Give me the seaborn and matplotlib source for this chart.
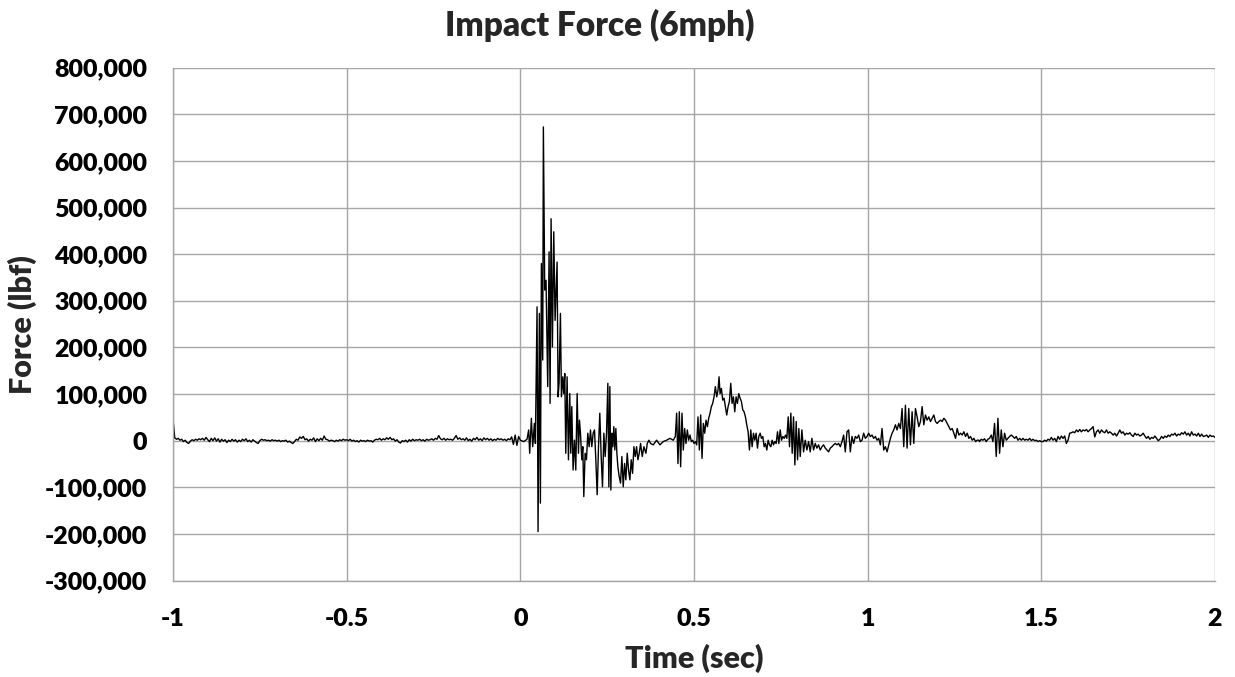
#!/usr/bin/env python3
"""
Impact force time history (6 mph) recreated with seaborn.
"""

import numpy as np
import pandas as pd
import matplotlib
matplotlib.use("Agg")
import matplotlib.pyplot as plt
import seaborn as sns
from matplotlib.ticker import FuncFormatter, MultipleLocator

# Pre-impact baseline, uniform sampling (start, step in sec), force in thousand lbf
pre_t0, pre_dt = -1.0, 0.005
pre_k = [45, 6, 3, 5, 1, 3, -2, 1, -4, -6,
         -1, 2, 0, 3, 1, 4, 2, 5, 1, 7,
         2, -2, 5, 0, 6, -1, 4, -3, 3, -1,
         2, -4, 1, -2, 3, -1, 2, -3, 1, -2,
         3, 0, 4, -2, 1, -3, 2, -1, -4, -6,
         0, 3, 1, 2, 0, 1, -1, 2, 0, 1,
         -1, 1, -2, 0, -1, 1, -3, -1, -4, -6,
         -2, 3, 1, 8, 5, 9, 2, 4, -1, 3,
         1, 6, -2, 4, 0, 5, 1, 10, 3, 2,
         -1, 1, 0, -2, 1, -1, 2, 0, 3, 1,
         2, 0, 3, -1, 1, -2, 0, -3, 1, -1,
         0, -2, 1, -1, 0, -3, 1, 3, 2, 5,
         1, 4, 2, 6, 3, 7, 2, 4, -1, 2,
         -3, -5, 0, -2, 1, -3, 2, -1, 3, 0,
         2, 1, 3, 0, 2, -1, 3, 1, 2, 4,
         1, 5, 3, 11, 4, 2, 5, 1, 4, 2,
         3, 1, 5, 11, 3, 6, 2, 4, 1, 6,
         0, 3, -1, 5, 2, 7, 1, 4, 0, 6,
         2, 5, 1, 4, 0, 3, 1, 5, 2, 4,
         1, 3, 0, 4, 2, 8, -8, 12, -10, 9]

# Impact pulse (time in ms, force in thousand lbf)
impact_ms = [0, 9.6, 19.2, 24.0, 26.9, 31.7, 35.6, 40.4, 43.3, 48.1,
             51.0, 54.8, 57.7, 60.6, 64.4, 66.3, 70.2, 74.0, 78.8, 82.7,
             85.6, 88.5, 92.3, 96.2, 100.0, 105.8, 108.7, 111.5, 115.4, 118.3,
             122.1, 125.0, 127.9, 130.8, 134.6, 138.5, 142.3, 145.2, 148.1, 151.9,
             155.8, 159.6, 163.5, 167.3, 170.2, 173.1, 176.9, 179.8, 182.7, 186.5,
             190.4, 194.2, 198.1, 201.9, 205.8, 209.6, 213.5, 217.3, 221.2, 225.0,
             228.8, 232.7, 236.5, 240.4, 244.2, 248.1, 251.9, 254.8, 257.7, 260.6,
             263.5, 266.3, 269.2, 272.1, 275.0, 277.9, 280.8, 284.6, 288.5, 292.3,
             296.2, 300.0, 303.8, 307.7, 311.5, 315.4, 319.2, 323.1, 326.9, 330.8,
             334.6, 338.5, 342.3, 346.2, 351.0, 355.8, 361.5, 365.4, 370.2, 375.0]
impact_k = [1, -2, 3, 23, -27, 48, -13, 37, -6, 287,
            -195, 273, -134, 380, 173, 673, 323, 344, 116, 405,
            80, 476, 201, 448, 258, 383, 94, 123, 273, 94,
            137, 101, 144, -27, 137, -41, 101, -27, 73, -63,
            1, -63, 101, -27, 44, 16, -41, -13, -120, -27,
            -41, 16, -13, 23, -13, 16, 23, -41, -116, -13,
            59, -34, -99, 16, -34, 16, 123, -99, 116, -106,
            16, -13, 30, -20, 26, -27, -56, -77, -91, -34,
            -99, -49, -84, -27, -63, -84, -41, -70, -13, -34,
            -13, -41, -27, -6, -34, -13, -27, -6, 1, -6]

# Rebound hump around 0.5-0.8 s
mid_ms = [382.7, 392.3, 401.9, 411.5, 421.2, 430.8, 440.4, 446.2, 450.0, 453.8,
          457.7, 461.5, 465.4, 469.2, 473.1, 476.9, 480.8, 484.6, 488.5, 492.3,
          496.2, 500.0, 503.8, 507.7, 511.5, 515.4, 519.2, 523.1, 526.9, 530.8,
          534.6, 538.5, 542.3, 546.2, 550.0, 553.8, 557.7, 561.5, 565.4, 569.2,
          572.1, 575.0, 578.8, 582.7, 586.5, 590.4, 594.2, 598.1, 601.9, 605.8,
          609.6, 613.5, 617.3, 621.2, 625.0, 628.8, 632.7, 636.5, 640.4, 644.2,
          648.1, 651.9, 655.8, 659.6, 663.5, 667.3, 671.2, 675.0, 678.8, 682.7,
          686.5, 690.4, 694.2, 698.1, 701.9, 705.8, 709.6, 713.5, 717.3, 721.2,
          725.0, 728.8, 732.7, 736.5, 740.4, 744.2, 748.1, 751.9, 755.8, 759.6,
          763.5, 767.3, 771.2, 775.0, 778.8, 782.7, 786.5, 790.4, 794.2, 798.1,
          801.9]
mid_k = [-9, 1, -9, -2, 1, 5, 1, 9, 59, -49,
         62, -56, 59, -20, 26, -6, 23, 1, 12, -2,
         1, -6, -2, -9, 51, -20, 55, -38, 37, 16,
         44, 30, 48, 59, 73, 80, 94, 116, 94, 109,
         137, 101, 112, 87, 91, 73, 55, 73, 84, 123,
         80, 94, 62, 94, 80, 101, 91, 84, 66, 62,
         51, 34, 19, -20, 23, -13, 16, 1, 16, -16,
         9, 16, 5, 9, -13, -6, -20, 1, -9, -13,
         1, -9, -2, -6, 19, -6, 23, 1, 9, 5,
         12, 5, 51, -13, 59, -27, 51, -52, 41, -41,
         26]

# 0.8-1.32 s, uniform sampling
late_t0, late_dt = 0.8058, 0.004808
late_k = [-34, 23, -24, 1, -20, -2, -24, 5, -20, -6,
          -16, -9, -20, -13, -9, -16, -20, -24, -16, -13,
          -9, -6, -9, -6, -13, -2, 12, -24, 19, 23,
          -24, 9, -6, 9, 5, 12, -2, 1, 16, 5,
          9, 16, 9, 12, 5, 9, 1, 5, -9, 26,
          -20, -13, -24, -9, 5, 16, 23, 34, 23, 37,
          26, 69, -13, 76, -16, 69, -9, 62, -6, 69,
          51, 30, 41, 73, 34, 55, 44, 51, 41, 48,
          55, 41, 37, 41, 44, 41, 48, 44, 37, 30,
          23, 26, 16, 5, 26, 12, 16, 12, 19, 9,
          16, 5, 9, 1, 5, -2, 1, 1]

# 1.32-2.0 s tail, uniform sampling
tail_t0, tail_dt = 1.3221, 0.004808
tail_k = [-2, 3, 1, 4, -2, 3, 5, 12, -2, 37,
          -34, 48, -27, 23, -13, 16, 1, 5, 9, 12,
          9, 5, 9, 1, 5, 1, 5, 1, 3, 1,
          5, 0, 3, 0, 1, -2, 0, -2, -2, 1,
          -1, 3, 1, 7, 1, 5, -2, 9, 3, 10,
          5, 10, -6, 1, 16, 17, 19, 17, 23, 19,
          24, 19, 23, 21, 24, 19, 23, 26, 30, 8,
          19, 23, 16, 23, 19, 17, 23, 16, 19, 16,
          12, 16, 10, 16, 23, 16, 19, 12, 16, 14,
          17, 12, 9, 16, 12, 14, 10, 12, 16, 10,
          5, 9, 3, 7, 5, 10, 5, 0, 3, 9,
          5, 10, 7, 12, 9, 14, 12, 16, 10, 14,
          12, 17, 14, 19, 12, 16, 10, 19, 12, 14,
          10, 16, 9, 14, 9, 10, 12, 7, 12, 9,
          10, 7]

x_ticks = [-1, -0.5, 0, 0.5, 1, 1.5, 2]
y_min, y_max, y_step = -300000, 800000, 100000


def build_frame():
    """Stitch the segments into one time/force table."""
    t = np.concatenate([
        pre_t0 + pre_dt * np.arange(len(pre_k)),
        np.array(impact_ms) / 1000.0,
        np.array(mid_ms) / 1000.0,
        late_t0 + late_dt * np.arange(len(late_k)),
        tail_t0 + tail_dt * np.arange(len(tail_k)),
    ])
    f = np.concatenate([pre_k, impact_k, mid_k, late_k, tail_k]) * 1000.0
    return pd.DataFrame({"Time (sec)": t, "Force (lbf)": f})


def main():
    df = build_frame()

    sns.set_theme(style="whitegrid")
    plt.rcParams['font.family'] = ['Lato', 'DejaVu Sans']

    fig = plt.figure(figsize=(12.35, 6.77), dpi=100)
    ax = fig.add_axes([0.1401, 0.1425, 0.8437, 0.7575])

    sns.lineplot(data=df, x="Time (sec)", y="Force (lbf)", ax=ax,
                 color='black', linewidth=1.0, estimator=None, sort=False)

    ax.set_xlim(x_ticks[0], x_ticks[-1])
    ax.set_ylim(y_min, y_max)
    ax.set_xticks(x_ticks)
    ax.yaxis.set_major_locator(MultipleLocator(y_step))
    ax.xaxis.set_major_formatter(FuncFormatter(lambda v, p: f"{v:g}"))
    ax.yaxis.set_major_formatter(FuncFormatter(lambda v, p: f"{v:,.0f}"))

    ax.set_facecolor('white')
    ax.grid(True, color='#a6a6a6', linewidth=1.0)
    for side in ['top', 'right']:
        ax.spines[side].set_visible(False)
    for side in ['left', 'bottom']:
        ax.spines[side].set_color('#a6a6a6')
        ax.spines[side].set_linewidth(1.0)

    ax.tick_params(axis='both', which='major', direction='out', length=6.5,
                   width=1.0, color='#a6a6a6', labelsize=18, labelcolor='black')
    ax.tick_params(axis='x', pad=13)
    ax.tick_params(axis='y', pad=12)
    for lbl in ax.get_xticklabels() + ax.get_yticklabels():
        lbl.set_fontweight('heavy')

    ax.set_xlabel('Time (sec)', fontsize=22, fontweight='heavy', labelpad=10)
    ax.set_ylabel('Force (lbf)', fontsize=22, fontweight='heavy', labelpad=6)

    fig.text(0.486, 0.962, 'Impact Force (6mph)', fontsize=24, fontweight='heavy',
             ha='center', va='center')

    fig.savefig('out.png', dpi=100)


if __name__ == "__main__":
    main()
